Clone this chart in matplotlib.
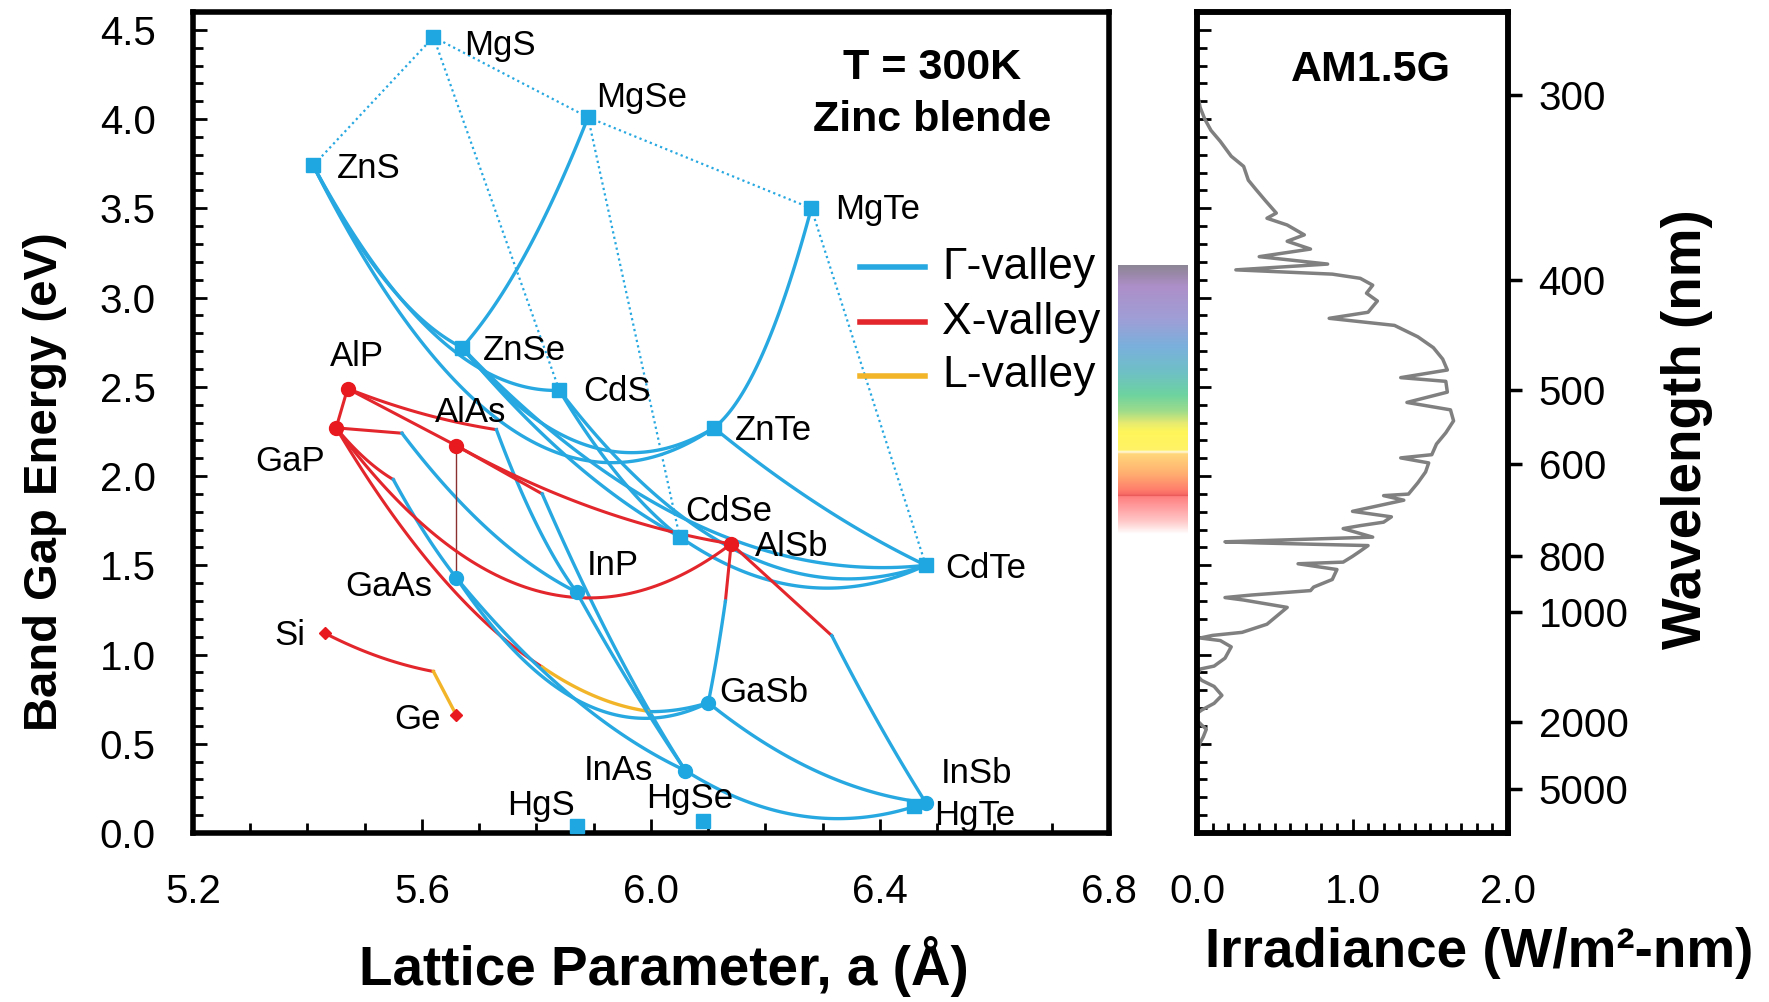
import numpy as np
import matplotlib
matplotlib.use("Agg")
import matplotlib.pyplot as plt
from matplotlib.colors import to_rgb

plt.rcParams["font.family"] = ["Liberation Sans", "DejaVu Sans"]

# binary compounds: lattice constant (Å) and band gap (eV)
names = ["MgS", "MgSe", "MgTe", "ZnS", "ZnSe", "ZnTe", "CdS", "CdSe", "CdTe",
         "HgS", "HgSe", "HgTe", "AlP", "GaP", "AlAs", "AlSb", "GaAs", "InP",
         "GaSb", "InAs", "InSb", "Si", "Ge"]
lattice = [5.62, 5.89, 6.28, 5.41, 5.67, 6.11, 5.84, 6.05, 6.48,
           5.87, 6.09, 6.46, 5.47, 5.45, 5.66, 6.14, 5.66, 5.87,
           6.10, 6.06, 6.48, 5.43, 5.66]
gaps = [4.46, 4.01, 3.50, 3.74, 2.72, 2.27, 2.48, 1.66, 1.50,
        0.04, 0.07, 0.15, 2.49, 2.27, 2.17, 1.62, 1.43, 1.35,
        0.73, 0.35, 0.17, 1.12, 0.66]
marker_kind = ["sq"] * 12 + ["red"] * 4 + ["blue"] * 5 + ["dia"] * 2

# label offsets (points) and alignment
label_dx = [22, 6, 17, 17, 15, 15, 17, 4, 14, -1, -9, 14, 7, -33, 10, 17, -17, 7, 8, -23, 11, -14, -11]
label_dy = [-6, 14, -1, -2, -2, -2, -1, 18, -2, 15, 16, -7, 23, -24, 24, -2, -6, 19, 7, 0, 21, -2, -3]
label_ha = ["left", "left", "left", "left", "left", "left", "left", "left", "left",
            "right", "center", "left", "center", "center", "center", "left", "right", "left",
            "left", "right", "left", "right", "right"]

# points where an alloy curve switches valley
kink_names = ["kAlP", "kGaP", "kGaAs", "kAlAs", "kL1", "kL2", "kAlSbGa", "kAlSbIn", "kSiGe"]
kink_a = [5.73, 5.565, 5.55, 5.81, 5.81, 6.00, 6.13, 6.316, 5.62]
kink_e = [2.26, 2.24, 1.98, 1.90, 0.93, 0.68, 1.30, 1.105, 0.905]

# alloy curves: start, end, bowing parameter (eV), valley
curves = [
    ("MgS", "ZnS", 0.0, "dot"), ("MgS", "MgSe", 0.0, "dot"), ("MgS", "CdS", 0.0, "dot"),
    ("MgSe", "MgTe", 0.0, "dot"), ("MgSe", "CdSe", 0.0, "dot"), ("MgTe", "CdTe", 0.0, "dot"),
    ("ZnS", "ZnSe", 0.6, "G"), ("ZnS", "ZnTe", 3.0, "G"), ("ZnS", "CdS", 1.3, "G"),
    ("ZnSe", "ZnTe", 1.3, "G"), ("MgSe", "ZnSe", 0.5, "G"), ("MgTe", "ZnTe", 0.8, "G"),
    ("ZnTe", "CdTe", 0.2, "G"), ("CdS", "CdSe", 0.3, "G"), ("CdSe", "CdTe", 0.8, "G"),
    ("CdS", "CdTe", 1.7, "G"), ("ZnSe", "CdSe", 0.4, "G"), ("ZnSe", "CdTe", 1.5, "G"),
    ("AlP", "GaP", 0.0, "X"), ("AlP", "AlAs", 0.0, "X"), ("AlP", "kAlP", 0.1, "X"),
    ("kAlP", "InP", 0.3, "G"), ("GaP", "kGaP", 0.0, "X"), ("kGaP", "InP", 0.4, "G"),
    ("GaP", "kGaAs", 0.1, "X"), ("kGaAs", "GaAs", 0.1, "G"), ("AlAs", "AlSb", 0.3, "X"),
    ("AlAs", "kAlAs", 0.0, "X"), ("kAlAs", "InAs", 0.3, "G"), ("AlAs", "GaAs", 0.0, "thin"),
    ("GaP", "AlSb", 2.33, "X"), ("GaP", "kL1", 0.6, "X"), ("kL1", "kL2", 0.17, "L"),
    ("kL2", "GaSb", 0.05, "G"), ("GaAs", "InAs", 0.48, "G"), ("InP", "InAs", 0.1, "G"),
    ("GaAs", "GaSb", 1.4, "G"), ("InAs", "InSb", 0.67, "G"), ("GaSb", "InSb", 0.42, "G"),
    ("AlSb", "kAlSbGa", 0.0, "X"), ("kAlSbGa", "GaSb", 0.1, "G"),
    ("AlSb", "kAlSbIn", 0.0, "X"), ("kAlSbIn", "InSb", 0.1, "G"),
    ("Si", "kSiGe", 0.1, "X"), ("kSiGe", "Ge", 0.0, "L"),
]

# AM1.5G spectrum
am_nm = [270, 280, 300, 305, 310, 315, 320, 327, 332, 339, 344, 350, 357, 360, 364, 370,
         374, 379, 384, 389, 393, 396, 399, 404, 410, 416, 425, 430, 436, 446, 456, 467,
         478, 486, 490, 502, 514, 523, 537, 553, 569, 585, 590, 598, 613, 632, 653, 656,
         665, 688, 700, 712, 720, 727, 748, 760, 763, 770, 785, 800, 817, 822, 840, 873,
         900, 913, 930, 940, 950, 981, 1022, 1060, 1103, 1120, 1135, 1150, 1189, 1266,
         1326, 1350, 1405, 1450, 1510, 1608, 1707, 1800, 1850, 1965, 2050, 2132, 2304,
         2450, 2614, 3000, 3900]
am_irr = [0.0, 0.0, 0.005, 0.02, 0.05, 0.09, 0.15, 0.22, 0.30, 0.33, 0.38, 0.44, 0.51, 0.45, 0.58, 0.69,
          0.58, 0.73, 0.40, 0.84, 0.25, 0.87, 1.05, 1.13, 1.09, 1.16, 1.10, 0.85, 1.27, 1.42, 1.52, 1.58,
          1.61, 1.31, 1.60, 1.61, 1.35, 1.63, 1.65, 1.60, 1.54, 1.51, 1.31, 1.49, 1.47, 1.42, 1.36, 1.20,
          1.33, 1.00, 1.25, 1.20, 1.05, 0.94, 1.13, 0.18, 0.40, 1.10, 1.05, 1.00, 0.94, 0.65, 0.90, 0.87,
          0.75, 0.73, 0.35, 0.18, 0.30, 0.58, 0.51, 0.45, 0.29, 0.10, 0.02, 0.15, 0.22, 0.18,
          0.11, 0.02, 0.0, 0.03, 0.11, 0.16, 0.11, 0.03, 0.0, 0.0, 0.03, 0.06, 0.04,
          0.02, 0.01, 0.0, 0.0]

# visible colour strip: wavelength stops (nm) and colours
strip_nm = [390, 396, 405, 430, 455, 480, 505, 525, 540, 552, 578, 581, 584, 615, 645,
            654, 656, 658, 680, 710, 740]
strip_col = ["#8c8696", "#9a88a8", "#ad8fc9", "#a09ed6", "#7ab0dc", "#6fc0c6", "#6dd3a0",
             "#9fdc8a", "#e6ea70", "#fff65a", "#fff266", "#fff8e0", "#ffd77a", "#ffb070",
             "#ff7e6c", "#f76a64", "#e65050", "#ff8080", "#ff9ea0", "#ffc8c8", "#ffffff"]

wl_ticks = [300, 400, 500, 600, 800, 1000, 2000, 5000]

colors = {"G": "#27a8e0", "X": "#e2262b", "L": "#f2b52a", "dot": "#27a8e0", "thin": "#8a3030"}
widths = {"G": 2.4, "X": 2.2, "L": 2.4, "dot": 1.6, "thin": 1.0}

pts = {n: (a, e) for n, a, e in zip(names, lattice, gaps)}
pts.update({n: (a, e) for n, a, e in zip(kink_names, kink_a, kink_e)})

fig = plt.figure(figsize=(17.69, 10.02), dpi=100)
ax = fig.add_axes([193 / 1769, 169 / 1002, 916 / 1769, 821 / 1002])
ax2 = fig.add_axes([1197 / 1769, 169 / 1002, 311 / 1769, 821 / 1002])
axc = fig.add_axes([1118 / 1769, 169 / 1002, 70 / 1769, 821 / 1002])

# alloy curves with Vegard's law and bowing
x = np.linspace(0, 1, 80)
for p1, p2, b, kind in curves:
    a1, e1 = pts[p1]
    a2, e2 = pts[p2]
    aa = a1 + (a2 - a1) * x
    ee = e1 + (e2 - e1) * x - b * x * (1 - x)
    ls = (0, (1, 1.5)) if kind == "dot" else "-"
    ax.plot(aa, ee, color=colors[kind], lw=widths[kind], ls=ls, zorder=2)

for n, a, e, k, dx, dy, ha in zip(names, lattice, gaps, marker_kind, label_dx, label_dy, label_ha):
    if k == "sq":
        ax.plot(a, e, "s", color="#1fa7e1", ms=10.5, zorder=4, clip_on=False)
    elif k == "blue":
        ax.plot(a, e, "o", color="#1fa7e1", ms=10, zorder=4)
    elif k == "red":
        ax.plot(a, e, "o", color="#e8191f", ms=10, zorder=4)
    else:
        ax.plot(a, e, "D", color="#e8191f", ms=6.5, zorder=4)
    ax.annotate(n, (a, e), xytext=(dx, dy), textcoords="offset points",
                ha=ha, va="center", fontsize=25, zorder=5)

ax.set_xlim(5.2, 6.8)
ax.set_ylim(0, 4.6)
ax.set_xticks([5.2, 5.6, 6.0, 6.4, 6.8])
ax.set_xticks(np.arange(5.2, 6.81, 0.1), minor=True)
ax.set_yticks(np.arange(0, 4.51, 0.5))
ax.set_yticks(np.arange(0, 4.61, 0.1), minor=True)
ax.set_xticklabels(["5.2", "5.6", "6.0", "6.4", "6.8"])
ax.set_yticklabels([f"{v:.1f}" for v in np.arange(0, 4.51, 0.5)])
ax.tick_params(which="both", direction="in", top=False, right=False, width=2)
ax.tick_params(which="major", length=10, labelsize=29)
ax.tick_params(axis="x", which="major", pad=29)
ax.tick_params(axis="y", which="major", pad=27)
ax.tick_params(which="minor", length=7)

ax.text(0.807, 0.932, "T = 300K", transform=ax.transAxes, fontsize=31,
        fontweight="bold", ha="center", va="center")
ax.text(0.807, 0.868, "Zinc blende", transform=ax.transAxes, fontsize=31,
        fontweight="bold", ha="center", va="center")

# legend
for lab, kind, yy in zip(["Γ-valley", "X-valley", "L-valley"], ["G", "X", "L"], [0.689, 0.622, 0.557]):
    ax.plot([0.728, 0.799], [yy, yy], transform=ax.transAxes, color=colors[kind], lw=4)
    ax.text(0.818, yy, lab, transform=ax.transAxes, fontsize=32, va="center", ha="left")

# visible spectrum strip
e_strip = np.linspace(1240 / 740, 1240 / 390, 500)
wl = 1240 / e_strip
rgb = np.array([to_rgb(c) for c in strip_col])
img = np.stack([np.interp(wl, strip_nm, rgb[:, i]) for i in range(3)], axis=-1)
axc.imshow(img[:, None, :], extent=[0, 1, e_strip[0], e_strip[-1]], origin="lower", aspect="auto")
axc.set_xlim(0, 1)
axc.set_ylim(0, 4.6)
axc.axis("off")

# AM1.5G panel
ax2.plot(am_irr, 1240 / np.array(am_nm), color="#808080", lw=2.5)
ax2.set_xlim(0, 2)
ax2.set_ylim(0, 4.6)
ax2.set_xticks([0, 1, 2])
ax2.set_xticklabels(["0.0", "1.0", "2.0"])
ax2.set_xticks(np.arange(0, 2.01, 0.1), minor=True)
ax2.set_yticks(np.arange(0, 4.51, 0.5))
ax2.set_yticks(np.arange(0, 4.61, 0.1), minor=True)
ax2.set_yticklabels([])
ax2.tick_params(which="both", direction="in", top=False, right=False, width=2)
ax2.tick_params(which="major", length=10, labelsize=29, pad=29)
ax2.tick_params(which="minor", length=7)
ax2.text(0.559, 0.929, "AM1.5G", transform=ax2.transAxes, fontsize=31,
         fontweight="bold", ha="center", va="center")

tw = ax2.twinx()
tw.set_ylim(0, 4.6)
tw.set_yticks(1240 / np.array(wl_ticks))
tw.set_yticklabels([str(w) for w in wl_ticks])
tw.tick_params(direction="out", length=10, width=2.5, labelsize=29, pad=12)

for a_ in (ax, ax2, tw):
    for s in a_.spines.values():
        s.set_linewidth(4)

fig.text(0.0254, 0.519, "Band Gap Energy (eV)", rotation=90, fontsize=34,
         fontweight="bold", ha="center", va="center")
fig.text(0.3755, 0.035, "Lattice Parameter, a (Å)", fontsize=39.5,
         fontweight="bold", ha="center", va="center")
fig.text(0.836, 0.049, "Irradiance (W/m²-nm)", fontsize=39.5,
         fontweight="bold", ha="center", va="center")
fig.text(0.9535, 0.572, "Wavelength (nm)", rotation=90, fontsize=39.5,
         fontweight="bold", ha="center", va="center")

fig.savefig("out.png", dpi=100)
